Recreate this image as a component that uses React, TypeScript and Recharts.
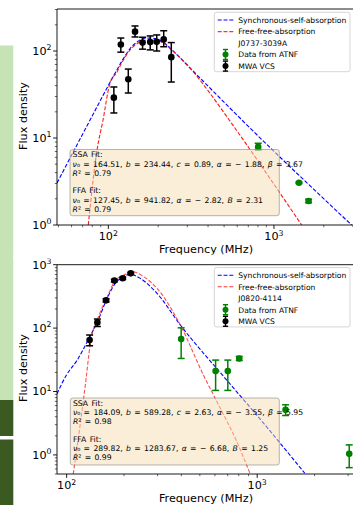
import React from 'react';
import { ComposedChart, Line, Scatter, ErrorBar, XAxis, YAxis, ReferenceLine } from 'recharts';

// ---- upper panel: J0737-3039A ----
const mwaFreqA = [108, 119, 132, 145, 161, 179, 196, 216, 240];
const mwaFluxA = [29.1, 119, 47.3, 167, 125, 127, 128, 136, 85];
const mwaLowA = [19.4, 97, 32.9, 145, 105, 103, 100, 112, 44];
const mwaHighA = [38.6, 141, 62, 194, 144, 149, 153, 171, 125];

const atnfFreqA = [803, 1416, 1618];
const atnfFluxA = [7.9, 3.06, 1.89];
const atnfLowA = [7.3, 3.0, 1.8];
const atnfHighA = [8.7, 3.12, 1.98];

const ssaFreqA = [49, 77.6, 110, 120, 135, 150, 165, 180, 197, 220, 240, 311, 736, 2944];
const ssaFluxA = [3.04, 16.1, 55.9, 75, 106, 128, 140, 141, 137, 122, 105, 64, 12.4, 1.0];

const ffaFreqA = [75.7, 85.5, 92.9, 102.4, 112.9, 120, 135, 150, 165, 180, 197, 220, 240, 311, 400, 537, 1469];
const ffaFluxA = [1.0, 7.28, 16.1, 42.9, 57.4, 72, 102, 122, 132, 134, 132, 120, 104, 64, 35, 16.1, 1.0];

// ---- lower panel: J0820-4114 ----
const mwaFreqB = [132, 145, 161, 178, 197, 217];
const mwaFluxB = [65, 123, 274, 561, 610, 731];
const mwaLowB = [52.7, 106, 258, 535, 585, 705];
const mwaHighB = [77.8, 139, 290, 588, 636, 758];

const atnfFreqB = [399, 605, 701, 805, 1409, 3040];
const atnfFluxB = [67.3, 21.0, 21.0, 33.2, 5.14, 1.04];
const atnfLowB = [33.2, 10.4, 10.4, 30.8, 4.18, 0.63];
const atnfHighB = [101, 31.3, 31.3, 35.8, 6.17, 1.44];

const ssaFreqB = [89, 100, 113, 132, 145, 163, 180, 199, 216, 243, 298, 395, 690, 995, 1778];
const ssaFluxB = [9.2, 18.4, 30.5, 72, 125, 294, 508, 649, 705, 610, 353, 112, 15.3, 4.24, 0.514];

const ffaFreqB = [108.3, 126.3, 132.5, 149.6, 160.8, 179, 202, 220, 253, 298, 395, 521, 615, 783, 916];
const ffaFluxB = [0.5, 15.3, 51.4, 173, 281, 547, 700, 778, 649, 424, 112, 18.4, 6.88, 1.6, 0.514];

// ---- ticks ----
const xMajorA = [100, 1000];
const xMinorA = [50, 60, 70, 80, 90, 200, 300, 400, 500, 600, 700, 800, 900, 2000, 3000];
const yMajorA = [1, 10, 100];
const yMinorA = [2, 3, 4, 5, 6, 7, 8, 9, 20, 30, 40, 50, 60, 70, 80, 90, 200, 300];
const xMajorB = [100, 1000];
const xMinorB = [200, 300, 400, 500, 600, 700, 800, 900, 2000, 3000];
const yMajorB = [1, 10, 100, 1000];
const yMinorB = [0.5, 0.6, 0.7, 0.8, 0.9, 2, 3, 4, 5, 6, 7, 8, 9, 20, 30, 40, 50, 60, 70, 80, 90, 200, 300, 400, 500, 600, 700, 800, 900];

// ---- fit annotations ----
const ssaFitA = ['164.51', '234.44', '0.89', '1.88', '3.67', '0.79'];
const ffaFitA = ['127.45', '941.82', '2.82', '2.31', '0.79'];
const ssaFitB = ['184.09', '589.28', '2.63', '3.55', '5.95', '0.98'];
const ffaFitB = ['289.82', '1283.67', '6.68', '1.25', '0.99'];

const FONT = 'DejaVu Sans, sans-serif';

const curve = (f: number[], s: number[]) => f.map((x, i) => ({ x, y: s[i] }));
const points = (f: number[], s: number[], lo: number[], hi: number[]) =>
  f.map((x, i) => ({ x, y: s[i], err: [s[i] - lo[i], hi[i] - s[i]] }));

function XTick(props: any) {
  const { x, payload, axisY, majors } = props;
  const v = payload.value;
  const major = majors.includes(v);
  return (
    <g>
      <line x1={x} x2={x} y1={axisY} y2={axisY + (major ? 3.9 : 2.2)} stroke="#000" strokeWidth={major ? 0.9 : 0.6} />
      {major && (
        <text x={x} y={axisY + 15.3} textAnchor="middle" fontSize={11.2} fontFamily={FONT} fill="#000">
          10<tspan dy={-4.6} fontSize={7.8}>{Math.round(Math.log10(v))}</tspan>
        </text>
      )}
    </g>
  );
}

function YTick(props: any) {
  const { y, payload, majors } = props;
  const v = payload.value;
  const major = majors.includes(v);
  return (
    <g>
      <line x1={57} x2={57 - (major ? 3.9 : 2.2)} y1={y} y2={y} stroke="#000" strokeWidth={major ? 0.9 : 0.6} />
      {major && (
        <text x={51.5} y={y + 3.8} textAnchor="end" fontSize={11.2} fontFamily={FONT} fill="#000">
          10<tspan dy={-4.6} fontSize={7.8}>{Math.round(Math.log10(v))}</tspan>
        </text>
      )}
    </g>
  );
}

const dot = (color: string) => (p: any) => <circle cx={p.cx} cy={p.cy} r={3.3} fill={color} />;

function Panel(props: any) {
  const { height, top, xDomain, yDomain, xMajor, xMinor, yMajor, yMinor, ssa, ffa, mwa, atnf, redOpacity } = props;
  const axisY = height - 25;
  return (
    <ComposedChart width={360} height={height} margin={{ top, right: 5, bottom: 0, left: 0 }}>
      <XAxis
        dataKey="x"
        type="number"
        scale="log"
        domain={xDomain}
        allowDataOverflow
        ticks={[...xMajor, ...xMinor]}
        interval={0}
        height={25}
        tickLine={false}
        axisLine={{ stroke: '#000', strokeWidth: 0.9 }}
        tick={(p: any) => <XTick {...p} axisY={axisY} majors={xMajor} />}
      />
      <YAxis
        dataKey="y"
        type="number"
        scale="log"
        domain={yDomain}
        allowDataOverflow
        ticks={[...yMajor, ...yMinor]}
        interval={0}
        width={57}
        tickLine={false}
        axisLine={{ stroke: '#000', strokeWidth: 0.9 }}
        tick={(p: any) => <YTick {...p} majors={yMajor} />}
      />
      <ReferenceLine y={yDomain[1]} stroke="#000" strokeWidth={0.9} />
      <Line data={ssa} dataKey="y" type="monotone" stroke="#0000ff" strokeWidth={1.1} strokeDasharray="4 1.8" dot={false} isAnimationActive={false} />
      <Line data={ffa} dataKey="y" type="monotone" stroke="#ff0000" strokeOpacity={redOpacity} strokeWidth={1.1} strokeDasharray="4 1.8" dot={false} isAnimationActive={false} />
      <Scatter data={atnf} dataKey="y" fill="#008000" shape={dot('#008000')} isAnimationActive={false}>
        <ErrorBar dataKey="err" direction="y" width={3.5} stroke="#008000" strokeWidth={1.5} isAnimationActive={false} />
      </Scatter>
      <Scatter data={mwa} dataKey="y" fill="#000" shape={dot('#000')} isAnimationActive={false}>
        <ErrorBar dataKey="err" direction="y" width={3.5} stroke="#000" strokeWidth={1.5} isAnimationActive={false} />
      </Scatter>
    </ComposedChart>
  );
}

function FitBox({ x, y, w, h, ssa, ffa }: any) {
  const tx = x + 2.6;
  const b = y + 7.9;
  const lh = 9.2;
  return (
    <g fontFamily={FONT} fontSize={7.7} fill="#000" style={{ wordSpacing: '0.9px' }}>
      <rect x={x} y={y} width={w} height={h} rx={2.5} fill="#f5deb3" fillOpacity={0.5} stroke="#8a8a8a" strokeOpacity={0.7} strokeWidth={0.9} />
      <text x={tx} y={b}>SSA Fit:</text>
      <text x={tx} y={b + lh}>
        <tspan fontStyle="italic">ν</tspan>{`₀ = ${ssa[0]}, `}
        <tspan fontStyle="italic">b</tspan>{` = ${ssa[1]}, `}
        <tspan fontStyle="italic">c</tspan>{` = ${ssa[2]}, `}
        <tspan fontStyle="italic">α</tspan>{` = − ${ssa[3]}, `}
        <tspan fontStyle="italic">β</tspan>{` = ${ssa[4]}`}
      </text>
      <text x={tx} y={b + 2 * lh}>
        <tspan fontStyle="italic">R</tspan>{`² = ${ssa[5]}`}
      </text>
      <text x={tx} y={b + 4 * lh - 0.8}>FFA Fit:</text>
      <text x={tx} y={b + 5 * lh - 0.8}>
        <tspan fontStyle="italic">ν</tspan>{`₀ = ${ffa[0]}, `}
        <tspan fontStyle="italic">b</tspan>{` = ${ffa[1]}, `}
        <tspan fontStyle="italic">α</tspan>{` = − ${ffa[2]}, `}
        <tspan fontStyle="italic">B</tspan>{` = ${ffa[3]}`}
      </text>
      <text x={tx} y={b + 6 * lh - 0.8}>
        <tspan fontStyle="italic">R</tspan>{`² = ${ffa[4]}`}
      </text>
    </g>
  );
}

function ErrMark({ x, y, color }: any) {
  return (
    <g stroke={color} strokeWidth={1.4}>
      <line x1={x} x2={x} y1={y - 5} y2={y + 5} />
      <line x1={x - 2.6} x2={x + 2.6} y1={y - 5} y2={y - 5} />
      <line x1={x - 2.6} x2={x + 2.6} y1={y + 5} y2={y + 5} />
      <circle cx={x} cy={y} r={3} fill={color} stroke="none" />
    </g>
  );
}

function LegendBox({ x, y, name }: any) {
  const rows = [7.7, 19.3, 30.9, 42.2, 53.8];
  const tx = x + 24;
  return (
    <g fontFamily={FONT} fontSize={7.6} fill="#000">
      <rect x={x} y={y} width={135.7} height={59.4} rx={2} fill="#fff" fillOpacity={0.8} stroke="#cccccc" strokeWidth={0.8} />
      <line x1={x + 3.4} x2={x + 19} y1={y + rows[0]} y2={y + rows[0]} stroke="#0000ff" strokeWidth={1.1} strokeDasharray="4 1.8" />
      <line x1={x + 3.4} x2={x + 19} y1={y + rows[1]} y2={y + rows[1]} stroke="#ff0000" strokeOpacity={0.8} strokeWidth={1.1} strokeDasharray="4 1.8" />
      <ErrMark x={x + 11.2} y={y + rows[3]} color="#008000" />
      <ErrMark x={x + 11.2} y={y + rows[4]} color="#000" />
      <text x={tx} y={y + rows[0] + 2.8}>Synchronous-self-absorption</text>
      <text x={tx} y={y + rows[1] + 2.8}>Free-free-absorption</text>
      <text x={tx} y={y + rows[2] + 2.8}>{name}</text>
      <text x={tx} y={y + rows[3] + 2.8}>Data from ATNF</text>
      <text x={tx} y={y + rows[4] + 2.8}>MWA VCS</text>
    </g>
  );
}

export default function App() {
  return (
    <div style={{ position: 'absolute', left: 0, top: 0, width: 353, height: 505, overflow: 'hidden', background: '#fff' }}>
      <div style={{ position: 'absolute', left: 0, top: 0 }}>
        <Panel
          height={250}
          top={9}
          xDomain={[49, 3085]}
          yDomain={[1, 304]}
          xMajor={xMajorA}
          xMinor={xMinorA}
          yMajor={yMajorA}
          yMinor={yMinorA}
          ssa={curve(ssaFreqA, ssaFluxA)}
          ffa={curve(ffaFreqA, ffaFluxA)}
          mwa={points(mwaFreqA, mwaFluxA, mwaLowA, mwaHighA)}
          atnf={points(atnfFreqA, atnfFluxA, atnfLowA, atnfHighA)}
          redOpacity={0.9}
        />
      </div>
      <div style={{ position: 'absolute', left: 0, top: 255 }}>
        <Panel
          height={244}
          top={9.7}
          xDomain={[89, 3260]}
          yDomain={[0.5, 1000]}
          xMajor={xMajorB}
          xMinor={xMinorB}
          yMajor={yMajorB}
          yMinor={yMinorB}
          ssa={curve(ssaFreqB, ssaFluxB)}
          ffa={curve(ffaFreqB, ffaFluxB)}
          mwa={points(mwaFreqB, mwaFluxB, mwaLowB, mwaHighB)}
          atnf={points(atnfFreqB, atnfFluxB, atnfLowB, atnfHighB)}
          redOpacity={0.7}
        />
      </div>
      <svg width={353} height={505} style={{ position: 'absolute', left: 0, top: 0, pointerEvents: 'none' }}>
        <rect x={0} y={45.5} width={13.3} height={354.5} fill="#c6e3b5" />
        <rect x={0} y={400} width={13.3} height={36} fill="#3b5a22" />
        <rect x={0} y={439.5} width={13.3} height={66} fill="#3b5a22" />

        <FitBox x={70} y={149.5} w={209.3} h={66.2} ssa={ssaFitA} ffa={ffaFitA} />
        <FitBox x={70.3} y={398} w={209} h={67} ssa={ssaFitB} ffa={ffaFitB} />
        <LegendBox x={214.3} y={12.3} name="J0737-3039A" />
        <LegendBox x={214.3} y={267.5} name="J0820-4114" />

        <g fontFamily={FONT} fontSize={11.2} fill="#000">
          <text x={206} y={253.2} textAnchor="middle">Frequency (MHz)</text>
          <text x={206} y={501.5} textAnchor="middle">Frequency (MHz)</text>
          <text transform="translate(27,116) rotate(-90)" textAnchor="middle">Flux density</text>
          <text transform="translate(27,368) rotate(-90)" textAnchor="middle">Flux density</text>
        </g>
        <rect x={13.3} y={254.6} width={340} height={3.9} fill="#fff" />
      </svg>
    </div>
  );
}
